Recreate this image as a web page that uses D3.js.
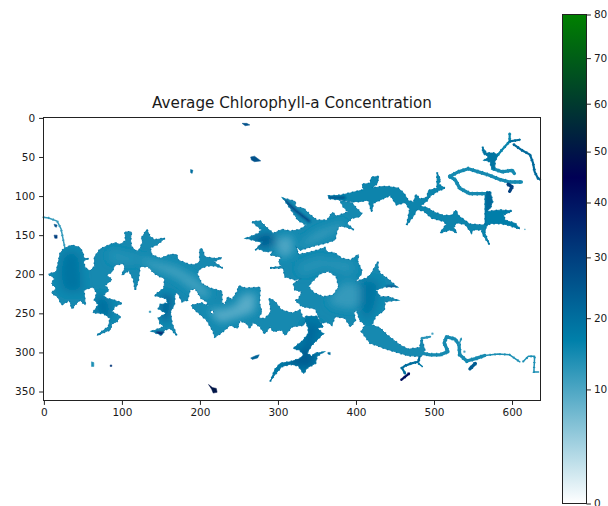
<!DOCTYPE html>
<html lang="en">
<head>
<meta charset="UTF-8">
<title>Average Chlorophyll-a Concentration</title>
<script src="https://d3js.org/d3.v7.min.js"></script>
<style>
  html, body { margin: 0; padding: 0; background: #fff; overflow: hidden; }
  svg { display: block; }
  text { font-family: "DejaVu Sans", sans-serif; fill: #1a1a1a; }
</style>
</head>
<body>
<script>
// every outline below is [column, row] of the raster
var westBand = [[26,167],[36,163],[46,166],[50,173],[51,180],[57,180],[50,183],[53,192],[59,196],[65,190],[65,178],[72,168],[83,163],[91,160],[98,162],[105,157],[104,146],[112,146],[111,156],[112,165],[119,171],[123,168],[127,158],[125,154],[132,143],[136,152],[142,156],[155,154],[145,162],[136,166],[138,175],[149,180],[162,175],[170,175],[172,182],[187,188],[194,188],[200,184],[200,168],[203,168],[206,178],[219,180],[228,179],[217,184],[229,192],[219,189],[209,189],[200,193],[196,199],[202,212],[213,218],[228,222],[228,237],[232,239],[236,229],[241,233],[248,222],[250,215],[258,218],[277,217],[276,237],[279,248],[275,256],[283,257],[290,250],[291,246],[289,231],[296,235],[303,244],[305,246],[318,250],[328,246],[331,254],[335,258],[333,265],[318,267],[309,278],[305,271],[294,273],[290,267],[283,276],[277,267],[268,261],[264,269],[260,263],[251,259],[248,269],[239,265],[226,276],[219,280],[217,273],[209,259],[192,244],[189,240],[202,237],[211,241],[209,235],[202,231],[194,218],[187,220],[184,233],[177,235],[172,224],[168,224],[167,239],[162,248],[164,263],[170,278],[162,269],[155,271],[151,278],[139,273],[155,267],[149,263],[147,256],[157,250],[147,244],[149,239],[159,237],[157,231],[142,227],[154,218],[155,205],[149,203],[142,199],[138,195],[134,190],[123,190],[121,207],[117,220],[115,207],[109,195],[100,201],[104,192],[102,186],[91,188],[87,197],[80,201],[87,207],[78,214],[83,220],[76,227],[80,231],[89,233],[100,237],[91,241],[87,248],[98,254],[93,261],[87,263],[85,271],[68,278],[83,267],[85,256],[76,250],[63,249],[70,239],[65,233],[68,224],[63,216],[51,220],[53,239],[46,233],[40,239],[36,244],[33,233],[23,239],[18,229],[10,224],[16,218],[10,212],[14,205],[6,200],[16,197],[18,188],[21,173]];
var westHole = [[213,246],[218,246],[218,251],[214,251]];
var northwestBay = [[260,154],[275,148],[279,143],[267,133],[277,132],[286,141],[294,148],[305,143],[316,145],[328,143],[337,137],[326,131],[316,116],[307,103],[322,107],[322,114],[333,116],[341,124],[350,131],[363,131],[370,121],[375,126],[386,122],[390,120],[384,114],[380,106],[395,109],[399,114],[407,122],[405,126],[395,128],[388,135],[397,143],[386,139],[378,138],[375,146],[373,156],[361,160],[348,163],[328,169],[322,163],[326,175],[310,178],[305,169],[284,171],[275,167],[271,169],[281,158],[275,158]];
var centralBasin = [[303,163],[322,163],[326,175],[337,173],[352,169],[360,166],[363,172],[373,173],[382,180],[393,182],[403,175],[402,184],[407,195],[407,199],[399,210],[414,205],[420,199],[428,184],[428,193],[431,199],[442,207],[452,216],[437,216],[425,220],[431,229],[442,229],[452,233],[437,235],[436,246],[425,254],[420,265],[431,269],[440,278],[457,291],[467,296],[482,294],[484,282],[488,297],[484,305],[467,304],[457,301],[437,295],[427,291],[418,288],[407,273],[412,265],[405,259],[401,246],[397,248],[399,259],[393,267],[386,256],[373,254],[369,265],[363,261],[355,262],[348,244],[331,241],[322,233],[326,233],[331,222],[322,220],[320,212],[331,205],[322,207],[309,203],[307,192],[290,192],[305,190],[301,184],[305,178],[290,175]];
var centralHole = [[341,212],[354,199],[365,196],[375,203],[378,216],[371,227],[358,229],[346,224],[339,216]];
var southArm = [[335,259],[339,269],[339,276],[331,286],[324,291],[320,295],[328,297],[333,303],[328,308],[316,312],[303,314],[296,322],[292,333],[290,337],[294,331],[299,325],[305,318],[316,315],[326,317],[333,327],[337,320],[348,314],[350,305],[357,300],[348,301],[343,305],[337,301],[343,291],[348,286],[358,276],[350,269],[358,267],[352,259],[350,254],[335,254]];
var northBand = [[365,100],[380,99],[393,96],[410,92],[408,85],[418,84],[420,76],[429,75],[427,84],[420,90],[433,88],[442,88],[454,90],[461,96],[467,106],[474,108],[477,98],[482,104],[491,102],[493,93],[504,90],[504,70],[508,79],[506,85],[514,90],[506,93],[495,100],[491,106],[482,113],[491,115],[501,121],[512,125],[523,125],[528,118],[531,125],[546,136],[559,137],[567,137],[565,147],[571,162],[563,150],[561,143],[550,143],[548,147],[540,136],[529,134],[525,140],[529,147],[521,143],[508,147],[516,136],[512,132],[497,128],[487,119],[478,117],[474,125],[465,137],[467,128],[469,117],[463,108],[452,111],[444,99],[435,103],[422,109],[420,120],[416,105],[405,107],[395,107],[382,105],[365,103]];
var eastBay = [[567,120],[585,118],[600,119],[589,124],[591,131],[604,135],[610,142],[595,137],[585,135],[574,135],[567,137]];
var eastLimb = [[567,95],[572,94],[575,107],[572,116],[567,118]];
var headBay = [[562,37],[567,45],[576,45],[582,47],[578,56],[578,67],[574,65],[572,56],[565,54],[570,50],[563,45]];
var regions = [westBand, northwestBay, centralBasin, southArm, northBand, eastBay, eastLimb, headBay];
var regionHoles = [westHole, null, centralHole, null, null, null, null, null];
var regionValues = [15, 15, 15, 18, 16, 17, 21, 19];

var riverWest = [[-1,127],[6,128],[17,132],[22,142],[25,157],[27,167]];
var loopEast = [[567,97],[567,137]];
var loopLower = [[520,75],[527,79],[533,90],[546,97],[565,97]];
var loopUpper = [[520,75],[531,69],[544,65],[557,69],[570,73],[585,79],[597,82],[612,82]];
var loopStub = [[595,85],[600,88],[597,94]];
var headWest = [[576,65],[587,69],[600,67],[603,71]];
var headNorth = [[578,52],[587,41],[597,30],[597,20]];
var headEast = [[597,30],[610,28]];
var headLong = [[602,34],[612,41],[623,47],[627,58],[629,69],[633,77],[636,79]];
var southRiver = [[484,301],[495,303],[508,303],[518,299],[513,288],[516,280],[527,283],[532,290],[533,303],[542,311],[553,308],[565,304]];
var southRiverThin = [[565,304],[582,302],[597,303],[610,312]];
var southRiverEnd = [[614,312],[621,305],[629,305],[628,325],[634,325]];
var southBranch = [[482,303],[480,312],[471,314],[463,317],[459,320],[463,327]];
var southTwig = [[480,314],[485,318]];
var southDark = [[468,327],[458,335]];
var southFork = [[484,282],[495,280]];
var southStub = [[532,290],[535,282]];
var southSpur = [[553,314],[546,321]];
var channels = [riverWest, loopEast, loopLower, loopUpper, loopStub, headWest, headNorth, headEast, headLong, southRiver, southRiverThin, southRiverEnd, southBranch, southTwig, southDark, southFork, southStub, southSpur];
var channelValues = [12, 19, 15, 15, 30, 15, 16, 20, 21, 15, 14, 14, 20, 18, 42, 13, 13, 24];
var channelClasses = ["thin", "wide", "wide", "wide", "wide", "wide", "mid", "mid", "mid", "wide", "thin", "thin", "mid", "thin", "mid", "mid", "thin", "wide"];

var softAreas = [
  [[210,245],[225,262],[250,255],[270,248],[272,225],[255,225],[245,240],[230,245]],
  [[120,178],[170,190],[195,205],[215,225],[205,232],[170,205],[130,188]],
  [[85,170],[120,178],[115,186],[85,182]],
  [[295,155],[318,150],[320,172],[305,180],[298,165]],
  [[330,160],[350,145],[385,133],[385,140],[350,158],[330,165]],
  [[325,190],[350,180],[395,185],[395,200],[360,190],[330,200]],
  [[365,232],[385,210],[410,215],[415,230],[395,245],[370,240]],
  [[25,172],[45,172],[48,200],[50,222],[25,222],[20,200]],
  [[70,225],[85,235],[85,255],[75,262],[65,240]],
  [[405,205],[430,210],[425,240],[415,260],[405,245]],
  [[322,300],[345,290],[345,320],[310,316]],
  [[335,262],[355,265],[345,290],[330,290]],
  [[150,225],[165,228],[160,260],[150,258]],
  [[262,155],[290,147],[300,160],[280,166]]
];
var softValues = [9, 11, 13, 10, 12, 13, 12, 19, 20, 19, 24, 21, 23, 24];

var deepRuns = [
  [[309,106],[322,118],[340,132]],
  [[365,102],[385,102]],
  [[145,275],[155,276]],
  [[440,217],[452,217]]
];
var deepValues = [30, 28, 44, 34];

var ponds = [
  [[254,7],[260,7],[264,9],[258,10]],
  [[265,50],[270,49],[274,52],[278,55],[270,56],[266,54]],
  [[188,66],[191,67],[190,71],[188,70]],
  [[61,312],[64,313],[64,318],[61,318]],
  [[85,316],[87,316],[87,318],[85,318]],
  [[265,307],[272,304],[276,303],[274,307],[267,309]],
  [[211,341],[216,345],[221,346],[222,351],[217,352],[215,347]],
  [[13,136],[17,137],[16,140],[14,139]],
  [[13,150],[17,150],[17,154],[14,154]],
  [[364,300],[367,300],[367,303],[364,302]],
  [[135,247],[137,247],[137,249],[135,249]],
  [[497,275],[499,275],[499,277],[497,277]],
  [[538,298],[540,298],[540,300],[538,300]],
  [[616,142],[617,142],[617,143],[616,143]]
];
var pondValues = [26, 26, 20, 14, 32, 22, 50, 26, 30, 20, 12, 10, 10, 10];

var xTicks = [0, 100, 200, 300, 400, 500, 600];
var yTicks = [0, 50, 100, 150, 200, 250, 300, 350];
var barTicks = [0, 10, 20, 30, 40, 50, 60, 70, 80];
var oceanStops = [0, 1 / 3, 2 / 3, 1];
var oceanColors = ["#ffffff", "#0080aa", "#000055", "#008000"];

var width = 608, height = 506;
var channelWidths = { thin: 1.9, mid: 2.8, wide: 4.2 };

var svg = d3.select("body").append("svg").attr("width", width).attr("height", height);

var x = d3.scaleLinear().domain([-0.5, 636.5]).range([43.5, 540.5]);
var y = d3.scaleLinear().domain([-0.5, 361.5]).range([117.5, 400.5]);
var norm = d3.scalePow().exponent(0.7).domain([0, 80]).range([0, 1]);
var ramp = d3.scaleLinear().domain(oceanStops).range(oceanColors);
var color = function(v) { return ramp(norm(v)); };
var unit = x(1) - x(0);

var line = d3.line().x(function(d) { return x(d[0]); }).y(function(d) { return y(d[1]); });
var ring = function(d) { return line(d) + "Z"; };
var regionPath = function(d, i) { return regionHoles[i] ? ring(d) + ring(regionHoles[i]) : ring(d); };

var defs = svg.append("defs");
defs.append("filter").attr("id", "soft").attr("x", "-40%").attr("y", "-40%").attr("width", "180%").attr("height", "180%")
  .append("feGaussianBlur").attr("stdDeviation", 4);
defs.append("filter").attr("id", "softer")
  .append("feGaussianBlur").attr("stdDeviation", 1);
defs.append("filter").attr("id", "edge")
  .append("feGaussianBlur").attr("stdDeviation", 0.45);
defs.append("clipPath").attr("id", "lake").selectAll("path").data(regions).enter().append("path")
  .attr("clip-rule", "evenodd").attr("d", regionPath);

var lake = svg.append("g").attr("filter", "url(#edge)");

// dashed wide stroke makes the ragged shore, solid rim just inside it
lake.append("g").selectAll("path").data(regions).enter().append("path")
  .attr("d", regionPath).attr("fill", "none").attr("stroke", color(15)).attr("stroke-width", 2.6 * unit)
  .attr("stroke-dasharray", "1.6 3.1");

lake.append("g").selectAll("path").data(regions).enter().append("path")
  .attr("d", regionPath).attr("fill", "none").attr("stroke", color(21)).attr("stroke-width", 1.1 * unit).attr("stroke-linejoin", "round");

lake.append("g").selectAll("path").data(channels).enter().append("path")
  .attr("d", line).attr("fill", "none").attr("stroke", function(d, i) { return color(channelValues[i]); })
  .attr("stroke-width", function(d, i) { return (channelWidths[channelClasses[i]] + 1) * unit; })
  .attr("stroke-dasharray", "1.2 3.7");

lake.append("g").selectAll("path").data(channels).enter().append("path")
  .attr("d", line).attr("fill", "none").attr("stroke-linecap", "round").attr("stroke-linejoin", "round")
  .attr("stroke", function(d, i) { return color(channelValues[i]); })
  .attr("stroke-width", function(d, i) { return channelWidths[channelClasses[i]] * unit; });

lake.append("g").selectAll("path").data(regions).enter().append("path")
  .attr("d", regionPath).attr("fill-rule", "evenodd")
  .attr("fill", function(d, i) { return color(regionValues[i]); });

var shade = lake.append("g").attr("clip-path", "url(#lake)");
shade.append("g").attr("filter", "url(#soft)").selectAll("path").data(softAreas).enter().append("path")
  .attr("d", ring).attr("fill", function(d, i) { return color(softValues[i]); });
shade.append("g").attr("filter", "url(#softer)").selectAll("path").data(deepRuns).enter().append("path")
  .attr("d", line).attr("fill", "none").attr("stroke-width", 3 * unit).attr("stroke-linecap", "round")
  .attr("stroke", function(d, i) { return color(deepValues[i]); });

lake.append("g").selectAll("path").data(ponds).enter().append("path")
  .attr("d", ring).attr("fill", function(d, i) { return color(pondValues[i]); })
  .attr("stroke", function(d, i) { return color(pondValues[i]); }).attr("stroke-width", 0.5);

// axes
svg.append("rect").attr("x", x.range()[0]).attr("y", y.range()[0])
  .attr("width", x.range()[1] - x.range()[0]).attr("height", y.range()[1] - y.range()[0])
  .attr("fill", "none").attr("stroke", "#222").attr("stroke-width", 1);

var xAxis = svg.append("g").attr("transform", "translate(0," + y.range()[1] + ")")
  .call(d3.axisBottom(x).tickValues(xTicks).tickSize(4.4).tickPadding(4));
var yAxis = svg.append("g").attr("transform", "translate(" + x.range()[0] + ",0)")
  .call(d3.axisLeft(y).tickValues(yTicks).tickSize(4.4).tickPadding(4));

svg.append("text").attr("x", (x.range()[0] + x.range()[1]) / 2).attr("y", 107.5)
  .attr("text-anchor", "middle").style("font-size", "15.2px").text("Average Chlorophyll-a Concentration");

// colorbar, power scaled like the image
var barX = 562.5, barW = 24;
var barY = d3.scalePow().exponent(0.7).domain([0, 80]).range([503.5, 14.5]);
var grad = defs.append("linearGradient").attr("id", "bar").attr("x1", 0).attr("x2", 0).attr("y1", 1).attr("y2", 0);
grad.selectAll("stop").data(oceanStops).enter().append("stop")
  .attr("offset", function(d) { return d; })
  .attr("stop-color", function(d, i) { return oceanColors[i]; });

svg.append("rect").attr("x", barX).attr("y", barY.range()[1]).attr("width", barW)
  .attr("height", barY.range()[0] - barY.range()[1]).attr("fill", "url(#bar)")
  .attr("stroke", "#222").attr("stroke-width", 1);

var barAxis = svg.append("g").attr("transform", "translate(" + (barX + barW) + ",0)")
  .call(d3.axisRight(barY).tickValues(barTicks).tickSize(4.4).tickPadding(3).tickFormat(d3.format("d")));

[xAxis, yAxis, barAxis].forEach(function(a) {
  a.select(".domain").remove();
  a.selectAll("line").attr("stroke", "#222").attr("stroke-width", 1);
  a.selectAll("text").style("font-size", "10.5px").style("font-family", "DejaVu Sans").attr("fill", "#1a1a1a");
});
</script>
</body>
</html>
